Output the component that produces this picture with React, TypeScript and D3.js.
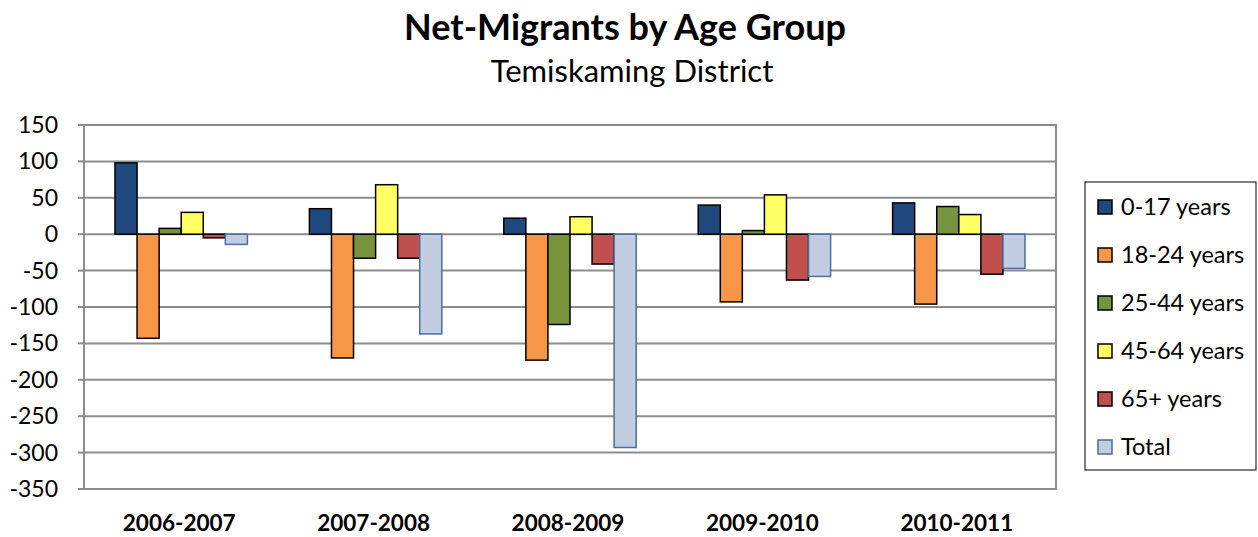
import * as d3 from 'd3';
import { useEffect, useRef } from 'react';

const periods = ['2006-2007', '2007-2008', '2008-2009', '2009-2010', '2010-2011'];
const seriesNames = ['0-17 years', '18-24 years', '25-44 years', '45-64 years', '65+ years', 'Total'];
const age0to17 = [98, 35, 22, 40, 43];
const age18to24 = [-143, -170, -173, -93, -96];
const age25to44 = [8, -33, -124, 5, 38];
const age45to64 = [30, 68, 24, 54, 27];
const age65plus = [-5, -33, -41, -63, -55];
const total = [-14, -137, -293, -58, -47];
const yTicks = [150, 100, 50, 0, -50, -100, -150, -200, -250, -300, -350];

const fills = ['#1F497D', '#F79646', '#77933C', '#FFFF66', '#C0504D', '#C2CDE2'];
const strokes = ['#000', '#000', '#000', '#000', '#000', '#4A6E9E'];

function App() {
    const ref = useRef(null);

    useEffect(() => {
        const el = d3.select(ref.current);
        el.selectAll('*').remove();
        const W = 1258, H = 537;
        const svg = el.append('svg').attr('width', W).attr('height', H)
            .style('font-family', 'Lato, "Open Sans", sans-serif');

        const left = 84, right = 1056, top = 125, bottom = 489;
        const y = d3.scaleLinear().domain([-350, 150]).range([bottom, top]);
        const x0 = d3.scaleBand().domain(periods).range([left, right]);
        const x1 = d3.scaleBand().domain(seriesNames).range([31, x0.bandwidth() - 31]);

        const values = [age0to17, age18to24, age25to44, age45to64, age65plus, total];

        // titles
        svg.append('text').attr('x', 625).attr('y', 40).attr('text-anchor', 'middle')
            .attr('font-weight', 'bold').attr('font-size', 36).text('Net-Migrants by Age Group');
        svg.append('text').attr('x', 632).attr('y', 82).attr('text-anchor', 'middle')
            .attr('font-size', 31).text('Temiskaming District');

        // grid
        svg.append('g').selectAll('line').data(yTicks).join('line')
            .attr('x1', left).attr('x2', right)
            .attr('y1', d => y(d)).attr('y2', d => y(d))
            .attr('stroke', '#8c8c8c').attr('stroke-width', 2);
        svg.append('rect').attr('x', left).attr('y', top).attr('width', right - left).attr('height', bottom - top)
            .attr('fill', 'none').attr('stroke', '#8c8c8c').attr('stroke-width', 2);
        // left tick marks
        svg.append('g').selectAll('line').data(yTicks).join('line')
            .attr('x1', left - 6).attr('x2', left)
            .attr('y1', d => y(d)).attr('y2', d => y(d))
            .attr('stroke', '#8c8c8c').attr('stroke-width', 2);

        svg.append('g').selectAll('text').data(yTicks).join('text')
            .attr('x', 58).attr('y', d => y(d) + 8).attr('text-anchor', 'end')
            .attr('font-size', 23).text(d => d);

        // bars
        periods.forEach((p, i) => {
            const g = svg.append('g').attr('transform', `translate(${x0(p)},0)`);
            seriesNames.forEach((s, j) => {
                const v = values[j][i];
                g.append('rect')
                    .attr('x', x1(s))
                    .attr('y', y(Math.max(0, v)))
                    .attr('width', x1.bandwidth())
                    .attr('height', Math.abs(y(v) - y(0)))
                    .attr('fill', fills[j])
                    .attr('stroke', strokes[j])
                    .attr('stroke-width', 1.5);
            });
        });

        // x labels
        svg.append('g').selectAll('text').data(periods).join('text')
            .attr('x', d => x0(d) + x0.bandwidth() / 2 - 2).attr('y', 531)
            .attr('text-anchor', 'middle').attr('font-weight', 'bold').attr('font-size', 22.5)
            .text(d => d);

        // legend
        const lg = svg.append('g');
        lg.append('rect').attr('x', 1085).attr('y', 182).attr('width', 171).attr('height', 288)
            .attr('fill', 'white').attr('stroke', '#000').attr('stroke-width', 1);
        seriesNames.forEach((s, j) => {
            const cy = 207 + j * 48;
            lg.append('rect').attr('x', 1098).attr('y', cy - 7).attr('width', 14).attr('height', 14)
                .attr('fill', fills[j]).attr('stroke', strokes[j]).attr('stroke-width', 1.5);
            lg.append('text').attr('x', 1121).attr('y', cy + 8).attr('font-size', 23.5).text(s);
        });
    });

    return <div ref={ref} style={{ position: 'absolute', left: 0, top: 0 }}></div>;
}

export default App;
